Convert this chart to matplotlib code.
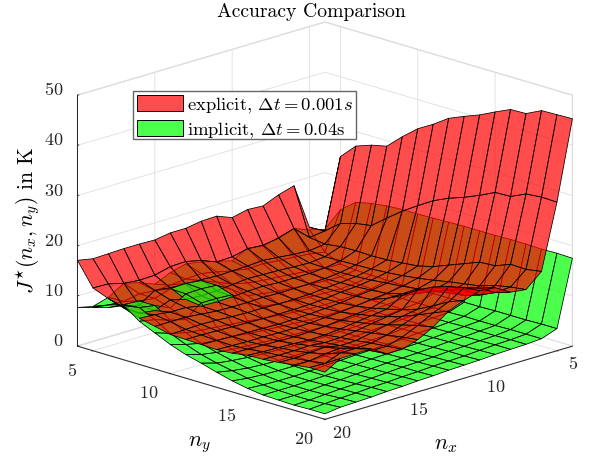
import numpy as np
import matplotlib
matplotlib.use("Agg")
import matplotlib.pyplot as plt
from matplotlib.patches import Patch, Rectangle
from mpl_toolkits.mplot3d.art3d import Poly3DCollection

plt.rcParams["font.family"] = ["cmr10", "DejaVu Sans"]
plt.rcParams["mathtext.fontset"] = "cm"
plt.rcParams["axes.formatter.use_mathtext"] = True

nx = [4, 5, 6, 7, 8, 9, 10, 11, 12, 13, 14, 15, 16, 17, 18, 19, 20]
ny = [4, 5, 6, 7, 8, 9, 10, 11, 12, 13, 14, 15, 16, 17, 18, 19, 20]
ticks = [5, 10, 15, 20]
zticks = [0, 10, 20, 30, 40, 50]

# rows: nx = 4..20, columns: ny = 4..20
j_explicit = [
    [8.3, 24.1, 27.1, 28.2, 28.9, 31.7, 34.2, 36, 38.1, 39.4, 40.6, 42.1, 43.5, 43.6, 45.1, 45.2, 45.3],
    [10, 10.2, 12.6, 13.5, 14, 16.4, 18.7, 20.7, 22.6, 24, 25.1, 26.4, 27.9, 28, 29.4, 29.7, 29.6],
    [19.2, 9.8, 9.4, 9.8, 9.9, 9.8, 9.9, 10.2, 10.5, 11.3, 12.5, 13.7, 14.9, 15.1, 16.3, 16.2, 16.7],
    [18.3, 12.5, 9.0, 8.7, 8.8, 8.9, 9.0, 9.2, 9.5, 9.9, 10.4, 11.0, 11.5, 12, 13.0, 13.6, 14.0],
    [17, 11.5, 9.2, 8.4, 8.3, 8.3, 8.4, 8.6, 8.9, 9.2, 9.6, 10.2, 10.6, 11, 12, 13.4, 14.4],
    [17.2, 11, 9.5, 8.5, 8.1, 8, 8.1, 8.2, 8.4, 8.7, 9.5, 10.5, 11.8, 13, 14, 15.2, 16.2],
    [16.5, 11.2, 9.8, 8.7, 8.1, 7.9, 7.9, 8, 8.1, 8.4, 9.5, 11, 13, 14.5, 15.5, 16.2, 16.5],
    [17.7, 10.5, 9.6, 8.8, 8.1, 7.8, 7.6, 7.6, 7.7, 8, 8.5, 9.2, 10, 11, 12.6, 14.3, 15.5],
    [17.6, 10.4, 9.5, 8.9, 8.3, 7.8, 7.5, 7.4, 7.5, 7.7, 8.2, 8.8, 9.5, 10.5, 11.7, 13, 14.3],
    [17.1, 11.6, 9.4, 8.6, 8.2, 7.9, 7.5, 7.3, 7.3, 7.5, 7.9, 8.4, 9, 9.7, 10.6, 11.4, 12],
    [17.1, 12.3, 9.6, 8.3, 8, 7.8, 7.6, 7.3, 7.2, 7.3, 7.6, 8, 8.5, 9, 9.5, 10, 10.4],
    [16.6, 12.2, 9.6, 8.2, 7.9, 7.8, 7.6, 7.3, 7.1, 7.2, 7.4, 7.7, 8.1, 8.4, 8.8, 9.1, 9.4],
    [16.7, 11.4, 9.8, 8.4, 8, 7.9, 7.7, 7.4, 7.2, 7.2, 7.3, 7.6, 8, 8.3, 8.7, 9.1, 9.4],
    [16.7, 11.3, 10.2, 9.2, 8.6, 8.2, 7.9, 7.5, 7.3, 7.3, 7.4, 7.8, 8.3, 8.9, 9.6, 10.5, 11.3],
    [16.6, 11.6, 8.2, 8, 8.6, 8.5, 8, 7.6, 7.4, 7.3, 7.5, 7.9, 8.2, 8.7, 9.4, 10.5, 11.3],
    [16.5, 12.4, 8.6, 8.4, 9, 8.5, 7.9, 7.7, 7.5, 7.4, 7.6, 8, 8.2, 8.5, 8.9, 9.3, 11.2],
    [17.1, 12.5, 11.3, 10.3, 9.2, 8.5, 7.8, 7.7, 7.6, 7.5, 7.7, 8.2, 8.3, 8.6, 9, 9.4, 9.4],
]
j_implicit = [
    [8.7, 13.5, 15.9, 16.6, 17, 17.2, 17.2, 17.3, 17.4, 17.5, 17.5, 17.5, 17.6, 17.6, 17.5, 17.6, 17.5],
    [9.5, 6, 4.5, 4.2, 4.1, 4, 4, 4, 4.1, 4.1, 4.2, 4.2, 4.3, 4.3, 4.3, 4.4, 4.4],
    [10.7, 6.5, 4.6, 3.8, 3.4, 3.2, 3.1, 3.1, 3.1, 3.1, 3.1, 3.2, 3.2, 3.2, 3.3, 3.3, 3.3],
    [9.8, 6.8, 5, 3.9, 3.2, 2.9, 2.8, 2.8, 2.8, 2.8, 2.9, 2.9, 3, 3, 3, 3.1, 3.1],
    [9, 7, 5.3, 4.1, 3.3, 2.8, 2.6, 2.5, 2.5, 2.6, 2.7, 2.7, 2.8, 2.8, 2.9, 3, 3],
    [9.5, 7.3, 5.6, 4.3, 3.4, 2.8, 2.4, 2.3, 2.3, 2.4, 2.5, 2.6, 2.6, 2.7, 2.7, 2.8, 2.9],
    [7.9, 7.2, 5.8, 4.6, 3.6, 2.9, 2.4, 2.2, 2.1, 2.2, 2.2, 2.3, 2.4, 2.5, 2.6, 2.6, 2.7],
    [8.7, 7.7, 6.2, 5, 3.9, 3.1, 2.5, 2.1, 2, 2, 2.1, 2.2, 2.3, 2.3, 2.4, 2.5, 2.6],
    [9.5, 8.4, 6.9, 5.5, 4.3, 3.4, 2.7, 2.2, 1.9, 1.9, 2, 2, 2.1, 2.2, 2.3, 2.4, 2.5],
    [10, 9, 8.2, 7.6, 5.8, 3.7, 2.9, 2.3, 1.9, 1.8, 1.8, 1.9, 2, 2.1, 2.2, 2.2, 2.3],
    [9.2, 8.8, 9.4, 9.4, 8.4, 4.1, 3.1, 2.4, 1.9, 1.7, 1.7, 1.7, 1.8, 1.9, 2, 2.1, 2.2],
    [7.8, 8.5, 9.8, 9.6, 8.6, 4.4, 3.4, 2.6, 2, 1.7, 1.6, 1.6, 1.6, 1.7, 1.8, 1.9, 2],
    [9, 8.3, 9.6, 9.5, 8.6, 4.7, 3.7, 2.8, 2.1, 1.7, 1.5, 1.4, 1.4, 1.5, 1.6, 1.8, 1.9],
    [9.8, 8.6, 8.6, 7.6, 6.2, 5, 3.9, 3, 2.3, 1.8, 1.5, 1.3, 1.3, 1.4, 1.5, 1.6, 1.7],
    [7.9, 8, 9, 9, 7, 5.4, 4.2, 3.3, 2.6, 2, 1.6, 1.3, 1.2, 1.2, 1.3, 1.5, 1.6],
    [7, 8.2, 9.2, 9.5, 8, 6.2, 4.9, 3.8, 3, 2.4, 1.8, 1.4, 1.2, 1.1, 1.1, 1.3, 1.5],
    [7.7, 8.6, 9.5, 10.8, 8.6, 7.2, 5.8, 4.7, 3.9, 3, 2.2, 1.6, 1.2, 1.1, 1, 1.1, 1.1],
]

RED = (1, 0, 0, 0.7)
GREEN = (0, 1, 0, 0.7)
GRAY = "#262626"
FAINT = "#dedede"


def quads(z):
    z = np.asarray(z, float)
    out = []
    for i in range(len(nx) - 1):
        for j in range(len(ny) - 1):
            out.append([(nx[i], ny[j], z[i, j]), (nx[i + 1], ny[j], z[i + 1, j]),
                        (nx[i + 1], ny[j + 1], z[i + 1, j + 1]), (nx[i], ny[j + 1], z[i, j + 1])])
    return out


W, H = 595, 461
fig = plt.figure(figsize=(W / 100, H / 100), dpi=100)
S = 544
ax = fig.add_axes([45.6 / W, -39 / H, S / W, S / H], projection="3d", computed_zorder=False)
ax.patch.set_visible(False)
ax.set_proj_type("ortho")
ax.view_init(elev=17.2, azim=45)
ax.set_box_aspect((349, 349, 262))
ax.set_xlim(4, 20, view_margin=0)
ax.set_ylim(4, 20, view_margin=0)
ax.set_zlim(0, 50, view_margin=0)

# both surfaces in one collection so the faces get depth sorted together
q_red, q_green = quads(j_explicit), quads(j_implicit)
polys = Poly3DCollection(q_red + q_green, facecolors=[RED] * len(q_red) + [GREEN] * len(q_green),
                         edgecolors="k", linewidths=0.55, zsort="average")
polys.set_clip_on(False)
ax.add_collection3d(polys)

ax.set_xticks(ticks)
ax.set_yticks(ticks)
ax.set_zticks(zticks)
ax.zaxis.set_ticks_position("lower")
for axis in (ax.xaxis, ax.yaxis, ax.zaxis):
    axis.set_pane_color((1, 1, 1, 1))
    axis.pane.set_edgecolor(FAINT)
    axis.line.set_color(GRAY)
    axis.line.set_linewidth(0.7)
    axis._axinfo["grid"].update(color=FAINT, linewidth=0.6)
    axis._axinfo["tick"].update(inward_factor=0.05, outward_factor=0.0, linewidth={True: 0.6, False: 0.4}, color=GRAY)
ax.zaxis._axinfo["tick"].update(inward_factor=0.0, outward_factor=0.07)
ax.tick_params(axis="x", labelsize=13, colors=GRAY, pad=5.5)
ax.tick_params(axis="y", labelsize=13, colors=GRAY, pad=9.5)
ax.tick_params(axis="z", labelsize=13, colors=GRAY, pad=-2.3)
for lab in ax.get_xticklabels() + ax.get_yticklabels():
    lab.set_va("bottom")
for lab in ax.get_zticklabels():
    lab.set_va("baseline")
    lab.set_ha("right")

ax.zaxis.set_rotate_label(False)
ax.set_zlabel(r"$J^{\star}(n_x, n_y)$ in K", fontsize=15.5, labelpad=-0.5, rotation=90)
ax.text2D(199 / W, 1 - 445 / H, "$n_y$", transform=fig.transFigure, fontsize=16, ha="center", va="center")
ax.text2D(446 / W, 1 - 445 / H, "$n_x$", transform=fig.transFigure, fontsize=16, ha="center", va="center")
ax.set_title("Accuracy Comparison", fontsize=14.2, y=0.959, va="center", x=0.488)

# frame drawn by hand, the legend's own one is too tall with this font
fig.add_artist(Rectangle((133 / W, 1 - 139 / H), 223 / W, 48 / H, transform=fig.transFigure, facecolor="white",
                         edgecolor="#666666", linewidth=1, zorder=4))
handles = [Patch(facecolor=RED, edgecolor="k", linewidth=0.7), Patch(facecolor=GREEN, edgecolor="k", linewidth=0.7)]
labels = [r"explicit, $\Delta t = 0.001s$", r"implicit, $\Delta t = 0.04$s"]
fig.legend(handles, labels, loc="upper left", bbox_to_anchor=(133 / W, 1 - 91 / H), fontsize=13.4, frameon=False,
           borderaxespad=0, borderpad=0.22, handlelength=2.47, handleheight=0.91,
           handletextpad=0.2, labelspacing=0.25)

fig.savefig("out.png", dpi=100)
